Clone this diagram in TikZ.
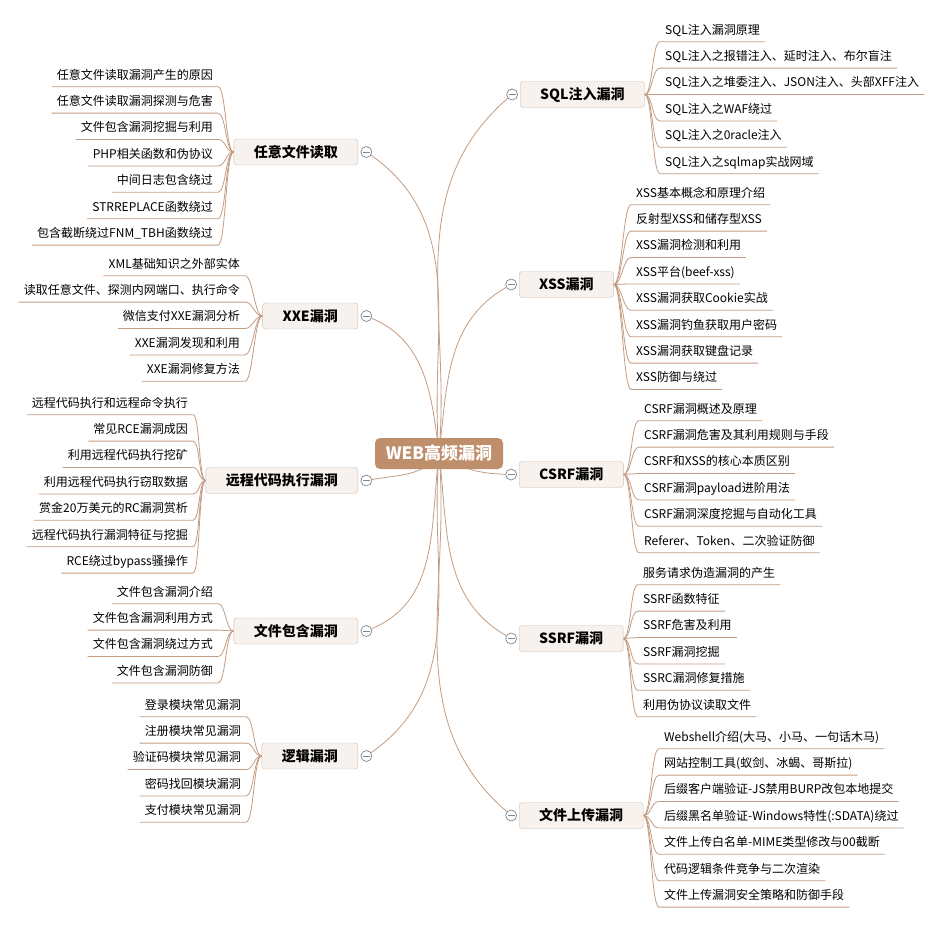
\documentclass[tikz,border=0pt]{standalone}
\usepackage{fontspec}
\setmainfont{Noto Sans CJK SC}
\usetikzlibrary{positioning,backgrounds}

\definecolor{rootfill}{HTML}{BF8F6C}
\definecolor{topicfill}{HTML}{F7F2EE}
\definecolor{topicdraw}{HTML}{D2BCAD}
\definecolor{linebrown}{HTML}{C49C82}
\definecolor{foldgray}{HTML}{7F8790}

\begin{document}
\begin{tikzpicture}[x=1pt, y=-1pt,
    root/.style={rounded corners=5pt, fill=rootfill, text=white, font=\fontsize{17}{20}\selectfont\bfseries,
                 minimum width=128pt, minimum height=31pt},
    topic/.style={rounded corners=3pt, draw=topicdraw, fill=topicfill, font=\fontsize{14}{17}\selectfont\bfseries,
                  inner xsep=20pt, minimum height=26pt},
    fold/.style={circle, draw=foldgray, fill=white, minimum size=11pt, inner sep=0pt, line width=0.7pt,
                 path picture={\draw[foldgray, line width=0.7pt] ([xshift=-3.5pt]path picture bounding box.center)
                                 -- ([xshift=3.5pt]path picture bounding box.center);}},
    leaf/.style={font=\fontsize{12}{14}\selectfont, inner xsep=5pt, inner ysep=0pt,
                 text height=8.5pt, text depth=2.5pt, minimum height=21pt},
    lnext/.style={leaf, below=5pt of #1.south east, anchor=north east},
    rnext/.style={leaf, below=5pt of #1.south west, anchor=north west},
    leafline/.style={draw=linebrown, line width=0.8pt},
    rootline/.style={draw=linebrown, line width=0.8pt}]

\begin{scope}[on background layer]
  \fill[white] (0,0) rectangle (945,926);
\end{scope}
\useasboundingbox (0,0) rectangle (945,926);

\node[root] (root) at (439,453.5) {WEB高频漏洞};

% left topics
\node[topic, anchor=east] (read)  at (358,152)   {任意文件读取};
\node[topic, anchor=east] (xxe)   at (358,316)   {XXE漏洞};
\node[topic, anchor=east] (rce)   at (358,480.5) {远程代码执行漏洞};
\node[topic, anchor=east] (inc)   at (358,631)   {文件包含漏洞};
\node[topic, anchor=east] (logic) at (358,756)   {逻辑漏洞};
\node[fold, right=2.5pt of read]  (readf)  {};
\node[fold, right=2.5pt of xxe]   (xxef)   {};
\node[fold, right=2.5pt of rce]   (rcef)   {};
\node[fold, right=2.5pt of inc]   (incf)   {};
\node[fold, right=2.5pt of logic] (logicf) {};

% right topics
\node[topic, anchor=west] (sql)  at (520,94.5)  {SQL注入漏洞};
\node[topic, anchor=west] (xss)  at (519,284.5) {XSS漏洞};
\node[topic, anchor=west] (csrf) at (519,474.5) {CSRF漏洞};
\node[topic, anchor=west] (ssrf) at (519,638.5) {SSRF漏洞};
\node[topic, anchor=west] (up)   at (519,815.5) {文件上传漏洞};
\node[fold, left=2pt of sql]  (sqlf)  {};
\node[fold, left=2pt of xss]  (xssf)  {};
\node[fold, left=2pt of csrf] (csrff) {};
\node[fold, left=2pt of ssrf] (ssrff) {};
\node[fold, left=2pt of up]   (upf)   {};

% root connectors
\begin{scope}[on background layer]
  \draw[rootline] (root.center) to[out=95,in=-35]   (readf);
  \draw[rootline] (root.center) to[out=97,in=-23]   (xxef);
  \draw[rootline] (root.center) to[out=235,in=10]   (rcef);
  \draw[rootline] (root.center) to[out=-97,in=23]   (incf);
  \draw[rootline] (root.center) to[out=-95,in=35]   (logicf);
  \draw[rootline] (root.center) to[out=85,in=221]   (sqlf);
  \draw[rootline] (root.center) to[out=83,in=210]   (xssf);
  \draw[rootline] (root.center) to[out=-35,in=178]  (csrff);
  \draw[rootline] (root.center) to[out=-83,in=150]  (ssrff);
  \draw[rootline] (root.center) to[out=-85,in=139]  (upf);
\end{scope}

% 任意文件读取
\node[leaf, anchor=east] (read1) at (218,76) {任意文件读取漏洞产生的原因};
\node[lnext=read1] (read2) {任意文件读取漏洞探测与危害};
\node[lnext=read2] (read3) {文件包含漏洞挖掘与利用};
\node[lnext=read3] (read4) {PHP相关函数和伪协议};
\node[lnext=read4] (read5) {中间日志包含绕过};
\node[lnext=read5] (read6) {STRREPLACE函数绕过};
\node[lnext=read6] (read7) {包含截断绕过FNM\_TBH函数绕过};

% XXE漏洞
\node[leaf, anchor=east] (xxe1) at (245,265) {XML基础知识之外部实体};
\node[lnext=xxe1] (xxe2) {读取任意文件、探测内网端口、执行命令};
\node[lnext=xxe2] (xxe3) {微信支付XXE漏洞分析};
\node[lnext=xxe3] (xxe4) {XXE漏洞发现和利用};
\node[lnext=xxe4] (xxe5) {XXE漏洞修复方法};

% 远程代码执行漏洞
\node[leaf, anchor=east] (rce1) at (193,404) {远程代码执行和远程命令执行};
\node[lnext=rce1] (rce2) {常见RCE漏洞成因};
\node[lnext=rce2] (rce3) {利用远程代码执行挖矿};
\node[lnext=rce3] (rce4) {利用远程代码执行窃取数据};
\node[lnext=rce4] (rce5) {赏金20万美元的RC漏洞赏析};
\node[lnext=rce5] (rce6) {远程代码执行漏洞特征与挖掘};
\node[lnext=rce6] (rce7) {RCE绕过bypass骚操作};

% 文件包含漏洞
\node[leaf, anchor=east] (inc1) at (218,593) {文件包含漏洞介绍};
\node[lnext=inc1] (inc2) {文件包含漏洞利用方式};
\node[lnext=inc2] (inc3) {文件包含漏洞绕过方式};
\node[lnext=inc3] (inc4) {文件包含漏洞防御};

% 逻辑漏洞
\node[leaf, anchor=east] (logic1) at (246,706) {登录模块常见漏洞};
\node[lnext=logic1] (logic2) {注册模块常见漏洞};
\node[lnext=logic2] (logic3) {验证码模块常见漏洞};
\node[lnext=logic3] (logic4) {密码找回模块漏洞};
\node[lnext=logic4] (logic5) {支付模块常见漏洞};

% SQL注入漏洞
\node[leaf, anchor=west] (sql1) at (660,31) {SQL注入漏洞原理};
\node[rnext=sql1] (sql2) {SQL注入之报错注入、延时注入、布尔盲注};
\node[rnext=sql2] (sql3) {SQL注入之堆委注入、JSON注入、头部XFF注入};
\node[rnext=sql3] (sql4) {SQL注入之WAF绕过};
\node[rnext=sql4] (sql5) {SQL注入之0racle注入};
\node[rnext=sql5] (sql6) {SQL注入之sqlmap实战网域};

% XSS漏洞
\node[leaf, anchor=west] (xss1) at (631,194) {XSS基本概念和原理介绍};
\node[rnext=xss1] (xss2) {反射型XSS和储存型XSS};
\node[rnext=xss2] (xss3) {XSS漏洞检测和利用};
\node[rnext=xss3] (xss4) {XSS平台(beef-xss)};
\node[rnext=xss4] (xss5) {XSS漏洞获取Cookie实战};
\node[rnext=xss5] (xss6) {XSS漏洞钓鱼获取用户密码};
\node[rnext=xss6] (xss7) {XSS漏洞获取键盘记录};
\node[rnext=xss7] (xss8) {XSS防御与绕过};

% CSRF漏洞
\node[leaf, anchor=west] (csrf1) at (639,410) {CSRF漏洞概述及原理};
\node[rnext=csrf1] (csrf2) {CSRF漏洞危害及其利用规则与手段};
\node[rnext=csrf2] (csrf3) {CSRF和XSS的核心本质区别};
\node[rnext=csrf3] (csrf4) {CSRF漏洞payload进阶用法};
\node[rnext=csrf4] (csrf5) {CSRF漏洞深度挖掘与自动化工具};
\node[rnext=csrf5] (csrf6) {Referer、Token、二次验证防御};

% SSRF漏洞
\node[leaf, anchor=west] (ssrf1) at (638,574) {服务请求伪造漏洞的产生};
\node[rnext=ssrf1] (ssrf2) {SSRF函数特征};
\node[rnext=ssrf2] (ssrf3) {SSRF危害及利用};
\node[rnext=ssrf3] (ssrf4) {SSRF漏洞挖掘};
\node[rnext=ssrf4] (ssrf5) {SSRC漏洞修复措施};
\node[rnext=ssrf5] (ssrf6) {利用伪协议读取文件};

% 文件上传漏洞
\node[leaf, anchor=west] (up1) at (659,738) {Webshell介绍(大马、小马、一句话木马)};
\node[rnext=up1] (up2) {网站控制工具(蚁剑、冰蝎、哥斯拉)};
\node[rnext=up2] (up3) {后缀客户端验证-JS禁用BURP改包本地提交};
\node[rnext=up3] (up4) {后缀黑名单验证-Windows特性(:SDATA)绕过};
\node[rnext=up4] (up5) {文件上传白名单-MIME类型修改与00截断};
\node[rnext=up5] (up6) {代码逻辑条件竞争与二次渲染};
\node[rnext=up6] (up7) {文件上传漏洞安全策略和防御手段};

% topic to leaf lines
\foreach \i in {1,...,7} \draw[leafline] (read.west) .. controls +(-8,0) and +(8,0) .. (read\i.south east) -- (read\i.south west);
\foreach \i in {1,...,5} \draw[leafline] (xxe.west) .. controls +(-8,0) and +(8,0) .. (xxe\i.south east) -- (xxe\i.south west);
\foreach \i in {1,...,7} \draw[leafline] (rce.west) .. controls +(-7,0) and +(7,0) .. (rce\i.south east) -- (rce\i.south west);
\foreach \i in {1,...,4} \draw[leafline] (inc.west) .. controls +(-8,0) and +(8,0) .. (inc\i.south east) -- (inc\i.south west);
\foreach \i in {1,...,5} \draw[leafline] (logic.west) .. controls +(-8,0) and +(8,0) .. (logic\i.south east) -- (logic\i.south west);
\foreach \i in {1,...,6} \draw[leafline] (sql.east) .. controls +(8,0) and +(-8,0) .. (sql\i.south west) -- (sql\i.south east);
\foreach \i in {1,...,8} \draw[leafline] (xss.east) .. controls +(8,0) and +(-8,0) .. (xss\i.south west) -- (xss\i.south east);
\foreach \i in {1,...,6} \draw[leafline] (csrf.east) .. controls +(8,0) and +(-8,0) .. (csrf\i.south west) -- (csrf\i.south east);
\foreach \i in {1,...,6} \draw[leafline] (ssrf.east) .. controls +(8,0) and +(-8,0) .. (ssrf\i.south west) -- (ssrf\i.south east);
\foreach \i in {1,...,7} \draw[leafline] (up.east) .. controls +(8,0) and +(-8,0) .. (up\i.south west) -- (up\i.south east);
\end{tikzpicture}
\end{document}
